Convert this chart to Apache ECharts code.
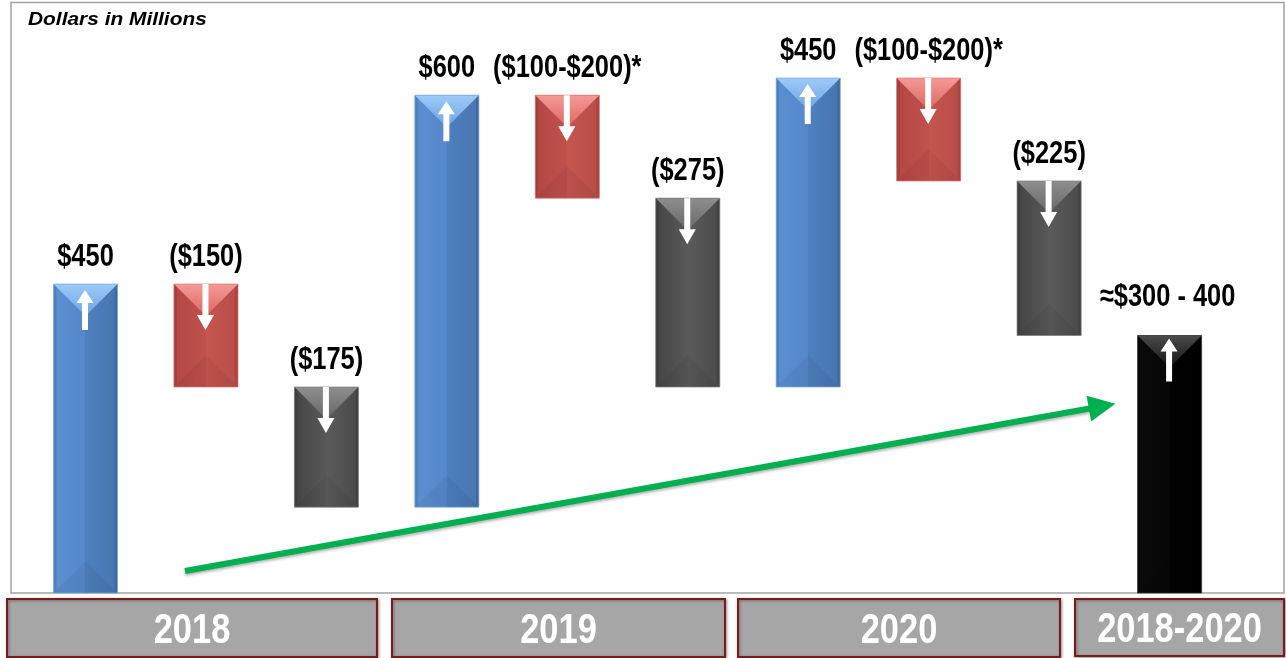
<!DOCTYPE html>
<html><head><meta charset="utf-8">
<script src="https://cdn.jsdelivr.net/npm/echarts@6/dist/echarts.min.js"></script>
<style>html,body{margin:0;padding:0;background:#fff;overflow:hidden}#c{width:1286px;height:658px}</style>
</head><body><div id="c"></div>
<script>
// ---- data ----
const valueLabels = ['$450', '($150)', '($175)', '$600', '($100-$200)*', '($275)', '$450', '($100-$200)*', '($225)', '\u2248$300 - 400'];
const barLow  = [0,   300, 125, 125, 575, 300, 300, 600, 375, 0];
const barHigh = [450, 450, 300, 725, 725, 575, 750, 750, 600, 375];
const barKind = ['up', 'cut', 'down', 'up', 'cut', 'down', 'up', 'cut', 'down', 'total'];
const yearLabels = ['2018', '2019', '2020', '2018-2020'];
const unitLabel = 'Dollars in Millions';

// ---- styles ----
const SANS = '"Liberation Sans", Arial, sans-serif';
const NARROW_SCALE = 0.82;
const PAL = {
  up:    { body: ['#5a8fd2', '#5688cb', '#4e80bf', '#4775b0'], top: ['#9ccaf8', '#6fa4e2'], edge: '#7aa6dc', arrowUp: true },
  cut:   { body: ['#b34744', '#c0514d', '#c5564f', '#b84c48'], top: ['#f59a96', '#dc6662'], edge: '#d87470', arrowUp: false },
  down:  { body: ['#444444', '#595959', '#5b5b5b', '#4a4a4a'], top: ['#8e8e8e', '#676767'], edge: '#7a7a7a', arrowUp: false },
  total: { body: ['#0a0a0a', '#070707', '#030303', '#000000'], top: ['#4a4a4a', '#141414'], edge: '#333333', arrowUp: true }
};

const barData = barLow.map((lo, i) => [i, lo, barHigh[i]]);

function renderBar(params, api) {
  const i = api.value(0);
  const pLo = api.coord([i, api.value(1)]);
  const pHi = api.coord([i, api.value(2)]);
  const w = api.size([1, 0])[0] * 0.532;
  const cx = pLo[0], top = pHi[1], bot = pLo[1];
  const l = cx - w / 2, r = cx + w / 2;
  const kind = barKind[params.dataIndex];
  const p = PAL[kind];
  const bev = Math.min(w / 2, (bot - top) / 2);
  const children = [];
  children.push({
    type: 'rect', shape: { x: l, y: top, width: w, height: bot - top },
    style: {
      fill: new echarts.graphic.LinearGradient(0, 0, 1, 0, [
        { offset: 0, color: p.body[0] }, { offset: 0.5, color: p.body[1] },
        { offset: 0.5, color: p.body[2] }, { offset: 1, color: p.body[3] }
      ])
    }
  });
  children.push({
    type: 'polygon', shape: { points: [[l, top], [r, top], [cx, top + bev]] },
    style: { fill: new echarts.graphic.LinearGradient(0, 0, 0, 1, [
      { offset: 0, color: p.top[0] }, { offset: 1, color: p.top[1] }]) }
  });
  children.push({
    type: 'polygon', shape: { points: [[l, bot], [r, bot], [cx, bot - bev]] },
    style: { fill: 'rgba(0,0,0,0.05)' }
  });
  children.push({
    type: 'polygon', shape: { points: [[l, top], [l + 3, top + 3], [l + 3, bot - 3], [l, bot]] },
    style: { fill: 'rgba(0,0,0,0.10)' }
  });
  children.push({
    type: 'polygon', shape: { points: [[r, top], [r - 3, top + 3], [r - 3, bot - 3], [r, bot]] },
    style: { fill: 'rgba(0,0,0,0.10)' }
  });
  children.push({
    type: 'rect', shape: { x: l, y: top, width: w, height: bot - top },
    style: { fill: null, stroke: p.edge, lineWidth: 1, opacity: 0.7 }
  });
  const sw = 3, hw = 8.5, ax = cx - 0.5;
  let pts;
  if (p.arrowUp) {
    const tip = top + (kind === 'total' ? 3 : 6), hb = tip + 13, end = top + 46;
    pts = [[ax, tip], [ax + hw, hb], [ax + sw, hb], [ax + sw, end], [ax - sw, end], [ax - sw, hb], [ax - hw, hb]];
  } else {
    const st = top, hb = top + 31, tip = top + 46;
    pts = [[ax - sw, st], [ax + sw, st], [ax + sw, hb], [ax + hw, hb], [ax, tip], [ax - hw, hb], [ax - sw, hb]];
  }
  children.push({ type: 'polygon', shape: { points: pts }, style: { fill: '#ffffff' } });
  children.push({
    type: 'text',
    x: cx + (kind === 'total' ? -2 : 0),
    y: top - (kind === 'total' ? 38 : 27),
    scaleX: NARROW_SCALE,
    style: {
      text: valueLabels[params.dataIndex], x: 0, y: 0,
      align: 'center', verticalAlign: 'middle',
      fontSize: 31, fontWeight: 'bold', fontFamily: SANS, fill: '#000'
    }
  });
  return { type: 'group', children };
}

const boxes = [[7, 599, 370, 58], [392, 599, 333, 58], [738, 599, 322, 58], [1075, 599, 209, 57]];
const graphics = [];
boxes.forEach((b, k) => {
  graphics.push({
    type: 'rect', shape: { x: b[0], y: b[1], width: b[2], height: b[3] },
    style: { fill: '#a6a6a6', stroke: '#7a1a1a', lineWidth: 2, shadowBlur: 3, shadowColor: 'rgba(0,0,0,0.35)', shadowOffsetX: 1, shadowOffsetY: 1 },
    z: 10
  });
  graphics.push({
    type: 'text',
    x: b[0] + b[2] / 2, y: b[1] + b[3] / 2 + 3,
    scaleX: NARROW_SCALE,
    style: { text: yearLabels[k], x: 0, y: 0, align: 'center', verticalAlign: 'middle',
      fontSize: 42, fontWeight: 'bold', fontFamily: SANS, fill: '#ffffff' },
    z: 11
  });
});
graphics.push({
  type: 'text', x: 28, y: 20, scaleX: 1.1,
  style: { text: unitLabel, x: 0, y: 0, align: 'left', verticalAlign: 'middle',
    fontSize: 19, fontWeight: 'bold', fontStyle: 'italic', fontFamily: SANS, fill: '#000' },
  z: 11
});

const chart = echarts.init(document.getElementById('c'), null, { renderer: 'canvas' });
chart.setOption({
  animation: false,
  backgroundColor: '#ffffff',
  grid: { left: 11, right: 2, top: 2.5, bottom: 65, show: true, borderColor: '#a3a3a3', borderWidth: 1.5, backgroundColor: '#ffffff' },
  xAxis: { type: 'value', min: -0.6185, max: 9.95, show: false },
  yAxis: { type: 'value', min: 0, max: 860, show: false },
  graphic: graphics,
  series: [
    {
      type: 'custom', renderItem: renderBar, data: barData,
      encode: { x: 0, y: [1, 2] }, silent: true, clip: false
    },
    {
      type: 'line', data: [], silent: true,
      markLine: {
        silent: true, symbol: ['none', 'triangle'], symbolSize: [26, 27],
        label: { show: false },
        lineStyle: { color: '#00b050', width: 6, type: 'solid', shadowBlur: 3, shadowColor: 'rgba(0,0,0,0.3)', shadowOffsetY: 2 },
        emphasis: { disabled: true },
        data: [[{ coord: [0.826, 32] }, { coord: [8.44, 272] }]]
      }
    }
  ]
});
</script></body></html>
